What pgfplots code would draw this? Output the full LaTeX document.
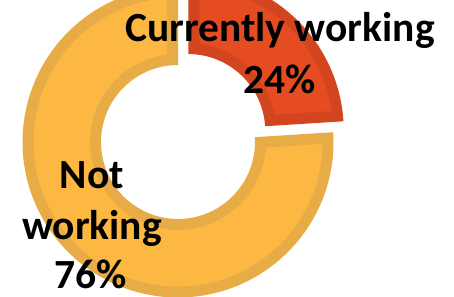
\documentclass[border=0pt]{standalone}
\usepackage{pgfplots}
\pgfplotsset{compat=1.18}
\usepackage{pgfplotstable}
\usepackage{fontspec}
\setmainfont{Carlito}
\definecolor{yfill}{HTML}{FDB843}
\definecolor{yborder}{HTML}{E7AC45}
\definecolor{rfill}{HTML}{E64C21}
\definecolor{rborder}{HTML}{D3451F}

\pgfplotstableread{
label value
Currently 24
Not 76
}\piedata

% #1 name, #2 colour, #3 cx, #4 cy, #5 R, #6 R-arc start, #7 R-arc end, #8 r, #9 r-arc start
\newcommand{\mkshape}[9]{%
  \pgfmathsetmacro{\tmpxa}{#3+#5*cos(#6)}%
  \pgfmathsetmacro{\tmpya}{#4+#5*sin(#6)}%
  \pgfmathsetmacro{\tmpxb}{#3+#8*cos(#9)}%
  \pgfmathsetmacro{\tmpyb}{#4+#8*sin(#9)}%
  \expandafter\xdef\csname #1\endcsname{\noexpand\fill[#2] (axis cs:\tmpxa,\tmpya) arc[start angle=#6,end angle=#7,radius=#5bp] -- (axis cs:\tmpxb,\tmpyb) arc[start angle=#9,end angle=\tmpend,radius=#8bp] -- cycle;}%
}

\pgfplotstablegetelem{0}{value}\of\piedata
\pgfmathsetmacro{\angA}{90-3.6*\pgfplotsretval}
\pgfplotstablegetelem{1}{value}\of\piedata
\pgfmathsetmacro{\angB}{\angA-3.6*\pgfplotsretval}
\pgfmathsetmacro{\midA}{(90+\angA)/2}
\pgfmathsetmacro{\rcx}{178+15*cos(\midA)}
\pgfmathsetmacro{\rcy}{155+15*sin(\midA)}
\def\Ro{155.5}
\def\Ri{77}
\pgfmathsetmacro{\Roi}{\Ro-11}
\pgfmathsetmacro{\Rii}{\Ri+11}
\pgfmathsetmacro{\dO}{asin(11/\Roi)}
\pgfmathsetmacro{\dI}{asin(11/\Rii)}
% yellow slice: border shape and inset fill
\def\tmpend{\angA}
\mkshape{yB}{yborder}{178}{155}{\Ro}{\angA}{\angB}{\Ri}{\angB}
\pgfmathsetmacro{\tmpend}{\angA-\dI}
\pgfmathsetmacro{\ya}{\angA-\dO}\pgfmathsetmacro{\yb}{\angB+\dO}\pgfmathsetmacro{\yc}{\angB+\dI}
\mkshape{yF}{yfill}{178}{155}{\Roi}{\ya}{\yb}{\Rii}{\yc}
% red slice (exploded)
\def\tmpend{90}
\mkshape{rB}{rborder}{\rcx}{\rcy}{\Ro}{90}{\angA}{\Ri}{\angA}
\pgfmathsetmacro{\tmpend}{90-\dI}
\pgfmathsetmacro{\ra}{90-\dO}\pgfmathsetmacro{\rb}{\angA+\dO}\pgfmathsetmacro{\rc}{\angA+\dI}
\mkshape{rF}{rfill}{\rcx}{\rcy}{\Roi}{\ra}{\rb}{\Rii}{\rc}

\begin{document}
\begin{tikzpicture}
\useasboundingbox (0,0) rectangle (454bp,297bp);
\clip (0,0) rectangle (454bp,297bp);
\begin{axis}[
  hide axis, scale only axis,
  width=454bp, height=297bp,
  xmin=0, xmax=454, ymin=0, ymax=297,
  clip=false,
]
\yB
\yF
\rB
\rF
\node[inner sep=0pt, anchor=base, font=\fontsize{41.5bp}{52bp}\selectfont\bfseries] at (axis cs:280,255) {Currently working};
\node[inner sep=0pt, anchor=base, font=\fontsize{41.5bp}{52bp}\selectfont\bfseries] at (axis cs:280,203) {24\%};
\node[inner sep=0pt, anchor=base, font=\fontsize{41.5bp}{52bp}\selectfont\bfseries] at (axis cs:92,108) {Not};
\node[inner sep=0pt, anchor=base, font=\fontsize{41.5bp}{52bp}\selectfont\bfseries] at (axis cs:92,57) {working};
\node[inner sep=0pt, anchor=base, font=\fontsize{41.5bp}{52bp}\selectfont\bfseries] at (axis cs:91,9) {76\%};
\end{axis}
\end{tikzpicture}
\end{document}
